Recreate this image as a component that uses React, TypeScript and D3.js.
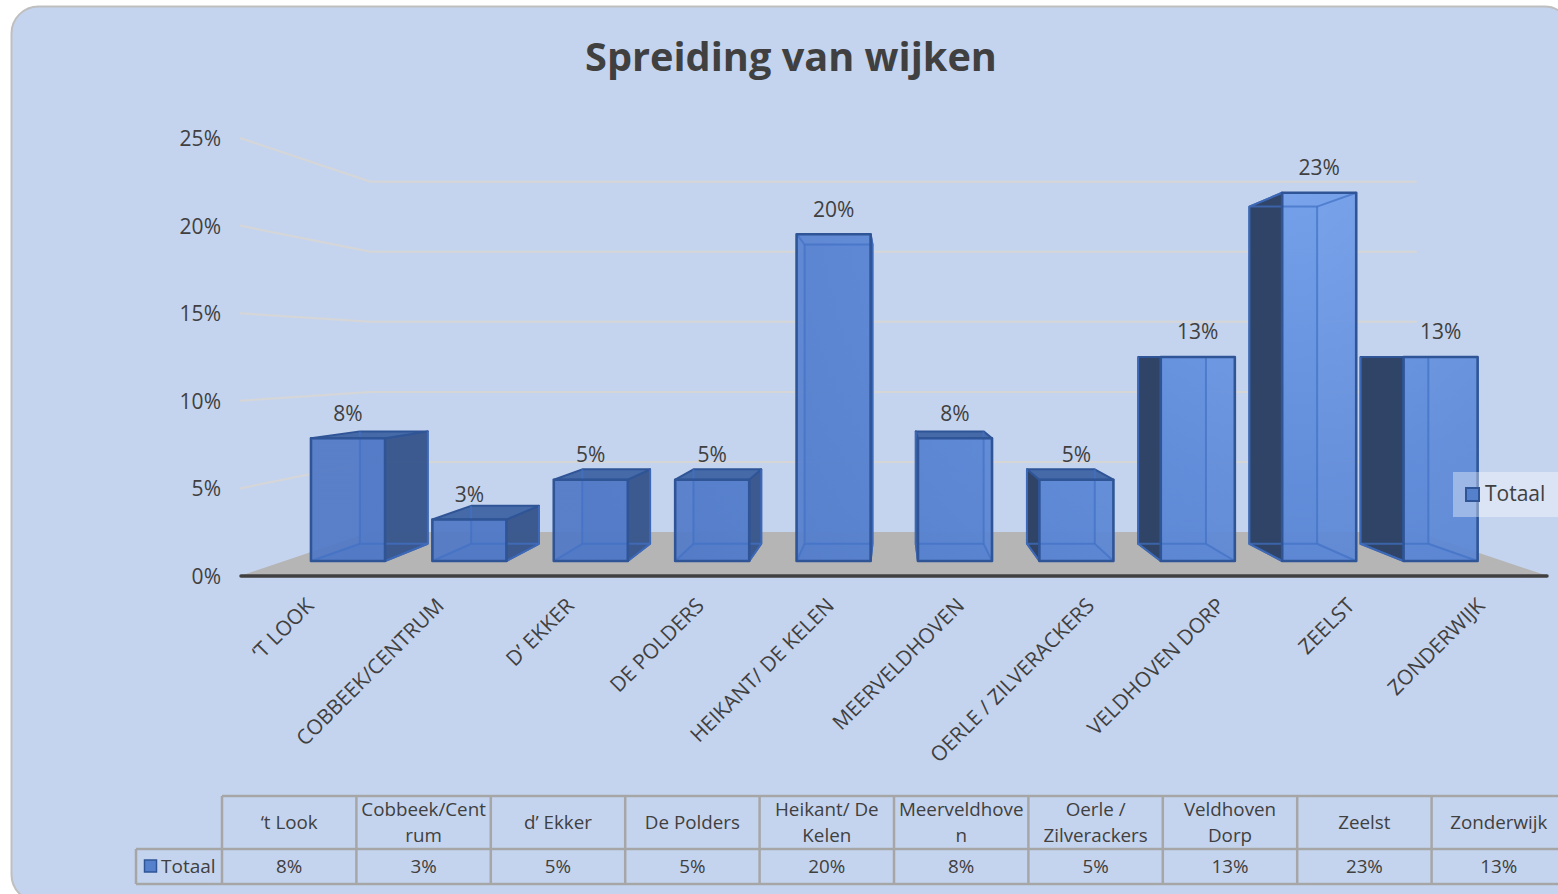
import * as d3 from 'd3';
import React from 'react';

// percentages
const labels = ['‘T LOOK', 'COBBEEK/CENTRUM', 'D’ EKKER', 'DE POLDERS', 'HEIKANT/ DE KELEN', 'MEERVELDHOVEN', 'OERLE / ZILVERACKERS', 'VELDHOVEN DORP', 'ZEELST', 'ZONDERWIJK'];
const values = [7.7, 2.6, 5.1, 5.1, 20.5, 7.7, 5.1, 12.8, 23.1, 12.8];
const valueLabels = ['8%', '3%', '5%', '5%', '20%', '8%', '5%', '13%', '23%', '13%'];
const tableHeaders = [['‘t Look'], ['Cobbeek/Cent', 'rum'], ['d’ Ekker'], ['De Polders'], ['Heikant/ De', 'Kelen'], ['Meerveldhove', 'n'], ['Oerle /', 'Zilverackers'], ['Veldhoven', 'Dorp'], ['Zeelst'], ['Zonderwijk']];
const ticks = [0, 5, 10, 15, 20, 25];
const seriesName = 'Totaal';
const title = 'Spreiding van wijken';

const W = 1558;
const H = 894;
const FONT = '"Open Sans", sans-serif';
const TEXT = '#404040';

// vanishing point of the fake 3D and depth factors
const vx = 892;
const vy = 356.5;
const barDepth = 0.9158;
const wallDepth = 0.8;
const project = (x: number, y: number, k: number): [number, number] => [vx + k * (x - vx), vy + k * (y - vy)];
const poly = (pts: [number, number][]) => pts.map(p => p.join(',')).join(' ');

const axisY = d3.scaleLinear().domain([0, 25]).range([576, 138]);
const barY = d3.scaleLinear().domain([0, 25]).range([561, 162.5]);
const labelX = d3.scaleBand<string>().domain(labels).range([242, 1543]);
const barX = d3.scaleBand<string>().domain(labels).range([287.3, 1501.3]).paddingInner(0.39).paddingOuter(0.195);
const tableX = d3.scaleBand<string>().domain(labels).range([222, 1566]);

const EDGE = '#2f5597';
const INNER = '#4170c4';

function Bar({ name, value, label }: { name: string; value: number; label: string }) {
    const x0 = barX(name)!;
    const x1 = x0 + barX.bandwidth();
    const top = barY(value);
    const base = barY(0);
    const tl: [number, number] = [x0, top];
    const tr: [number, number] = [x1, top];
    const bl: [number, number] = [x0, base];
    const br: [number, number] = [x1, base];
    const tlb = project(x0, top, barDepth);
    const trb = project(x1, top, barDepth);
    const blb = project(x0, base, barDepth);
    const brb = project(x1, base, barDepth);
    const onLeft = (x0 + x1) / 2 < vx;
    return (
        <g>
            <polygon points={poly([blb, brb, br, bl])} fill="#4f76bd" fillOpacity={0.75} />
            <polygon points={poly([tlb, trb, brb, blb])} fill="#5580cc" fillOpacity={0.6} />
            {onLeft
                ? <polygon points={poly([tr, trb, brb, br])} fill="#3a578c" fillOpacity={0.96} stroke={EDGE} strokeWidth={2} strokeLinejoin="round" />
                : <polygon points={poly([tl, tlb, blb, bl])} fill="#2e4265" fillOpacity={0.98} stroke={EDGE} strokeWidth={2} strokeLinejoin="round" />}
            {top > vy + 1 && <polygon points={poly([tl, tr, trb, tlb])} fill="#466aa8" stroke={EDGE} strokeWidth={2} strokeLinejoin="round" />}
            <polygon points={poly([tl, tr, br, bl])} fill="url(#frontFill)" fillOpacity={0.93} />
            <g stroke={INNER} strokeWidth={2} fill="none" strokeOpacity={0.7}>
                <polyline points={poly([tlb, blb, brb])} />
                <line x1={bl[0]} y1={bl[1]} x2={blb[0]} y2={blb[1]} />
                <line x1={br[0]} y1={br[1]} x2={brb[0]} y2={brb[1]} />
                <polyline points={poly([trb, brb])} />
                {top < vy - 1 && <polyline points={poly([tl, tlb, trb, tr])} />}
            </g>
            <polygon points={poly([tl, tr, br, bl])} fill="none" stroke={EDGE} strokeWidth={2.6} strokeLinejoin="round" />
            <text x={(x0 + x1) / 2} y={top - 17.5} textAnchor="middle" fontSize={21} fill={TEXT}>{label}</text>
        </g>
    );
}

export default function App() {
    const rowTop = 796;
    const rowMid = 849;
    const rowBottom = 884;
    const step = tableX.step();
    return (
        <svg width={W} height={H} viewBox={`0 0 ${W} ${H}`} fontFamily={FONT} style={{ position: 'fixed', left: 0, top: 0, display: 'block' }}>
            <defs>
                <radialGradient id="frontFill" gradientUnits="userSpaceOnUse" cx={1290} cy={180} r={760}>
                    <stop offset="0" stopColor="#74a1ec" />
                    <stop offset="0.4" stopColor="#5f8bd9" />
                    <stop offset="1" stopColor="#5179c6" />
                </radialGradient>
            </defs>
            <rect x={0} y={0} width={W} height={H} fill="#ffffff" />
            <rect x={11.5} y={6.5} width={1560} height={895} rx={27} ry={27} fill="#c5d4ee" stroke="#bfbfbf" strokeWidth={2} />

            <text x={791} y={71} textAnchor="middle" fontSize={39.7} fontWeight={700} fill={TEXT}>{title}</text>

            {/* floor */}
            <polygon points={poly([[240, 576], [1548, 576], project(1548, 576, wallDepth), project(240, 576, wallDepth)])} fill="#b5b5b5" />

            {/* gridlines: side wall then back wall */}
            {ticks.filter(t => t > 0).map(t => {
                const a = project(240, axisY(t), wallDepth);
                const b = project(1548, axisY(t), wallDepth);
                return <polyline key={t} points={poly([[240, axisY(t)], a, b])} fill="none" stroke="#d6d6d6" strokeWidth={2} />;
            })}

            {ticks.map(t => (
                <text key={t} x={221} y={axisY(t) + 8} textAnchor="end" fontSize={21} fill={TEXT}>{t}%</text>
            ))}

            {labels.map((name, i) => <Bar key={name} name={name} value={values[i]} label={valueLabels[i]} />)}

            <line x1={241} x2={1547} y1={576} y2={576} stroke="#404040" strokeWidth={3.5} strokeLinecap="round" />

            {labels.map(name => {
                const cx = labelX(name)! + labelX.bandwidth() / 2;
                return <text key={name} transform={`translate(${cx + 8},${607}) rotate(-45)`} textAnchor="end" fontSize={20.8} fill={TEXT}>{name}</text>;
            })}

            {/* legend */}
            <rect x={1453} y={472} width={105} height={45} fill="#ffffff" fillOpacity={0.37} />
            <rect x={1466} y={488} width={13} height={13} fill="#5580cc" stroke={EDGE} strokeWidth={2} />
            <text x={1485} y={501} fontSize={21} fill={TEXT}>{seriesName}</text>

            {/* data table */}
            <g stroke="#a6a6a6" strokeWidth={2.5} fill="none">
                <line x1={222} x2={W} y1={rowTop} y2={rowTop} />
                <line x1={136} x2={W} y1={rowMid} y2={rowMid} />
                <line x1={136} x2={W} y1={rowBottom} y2={rowBottom} />
                <line x1={136} x2={136} y1={rowMid} y2={rowBottom} />
                {labels.map(name => <line key={name} x1={tableX(name)!} x2={tableX(name)!} y1={rowTop} y2={rowBottom} />)}
            </g>
            <rect x={144.5} y={860} width={12} height={12} fill="#5580cc" stroke={EDGE} strokeWidth={1.5} />
            <text x={161} y={872.5} fontSize={19} fill={TEXT}>{seriesName}</text>
            {labels.map((name, i) => {
                const cx = tableX(name)! + step / 2;
                const lines = tableHeaders[i];
                return (
                    <g key={name} textAnchor="middle" fontSize={18.8} fill={TEXT}>
                        {lines.map((line, j) => (
                            <text key={line} x={cx} y={lines.length === 1 ? 829 : 816 + j * 26}>{line}</text>
                        ))}
                        <text x={cx} y={872.5}>{valueLabels[i]}</text>
                    </g>
                );
            })}
        </svg>
    );
}
